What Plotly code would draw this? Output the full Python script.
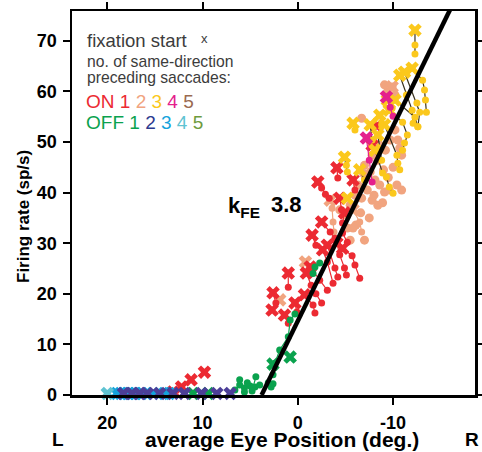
import plotly.graph_objects as go

# ---------------- data (eye position in deg, firing rate in sp/s) ----------------
# ON 1 (red)
on1_fix_x = [13.1, 12.2, 11.2, 9.8, 2.7, -7.8, -8.3, -2.1, 1.0, -0.9, -4.1, -4.7, -4.9, -2.5,
             -0.7, -2.6, -3.1, -1.3, 2.6, -4.4, -4.1, -5.8, 0.3, 1.4, -1.5]
on1_fix_y = [0.6, 1.6, 3.0, 4.5, 16.8, 49.4, 53.2, 42.1, 24.1, 24.1, 30.0, 29.0, 36.0, 34.2,
             19.8, 28.7, 29.6, 25.3, 20.2, 38.9, 44.9, 42.5, 18.2, 15.8, 31.6]
on1_traj_x = [-2.1, -2.5, -2.9, -3.3, None, 1.0, 1.0, None, -0.9, -1.4, -1.9, -2.5, None,
              -4.1, -4.4, -4.9, -5.1, None, -4.7, -5.7, -6.0, -6.5, None, -4.9, -4.7, -4.7, -5.2, None,
              -2.5, -3.4, -3.9, None, -0.7, -1.6, -1.8, None, -2.6, -3.1, -3.7, None,
              -3.1, -3.9, -4.2, None, -1.3, -2.3, -3.1, None, 2.6, 2.3, None, -4.4, -4.6, None,
              -4.1, -4.2, None, -5.8, -6.0, None, 0.3, 0.1, None, 1.4, 1.0, None, -1.5, -1.9]
on1_traj_y = [42.1, 40.9, 39.7, 38.9, None, 24.1, 21.3, None, 24.1, 21.7, 20.0, 18.2, None,
              30.0, 27.7, 25.1, 23.7, None, 29.0, 27.5, 25.7, 23.1, None, 36.0, 34.0, 32.0, 30.2, None,
              34.2, 32.2, 31.0, None, 19.8, 17.8, 16.2, None, 28.7, 26.3, 22.1, None,
              29.6, 25.1, 23.3, None, 25.3, 22.7, 20.7, None, 20.2, 18.2, None, 38.9, 36.6, None,
              44.9, 42.9, None, 42.5, 40.5, None, 18.2, 16.4, None, 15.8, 14.2, None, 31.6, 29.6]

# ON 2 (salmon)
on2_fix_x = [-3.4, -0.8, 1.9, -5.8, -9.9]
on2_fix_y = [38.5, 26.3, 18.8, 36.6, 60.9]
on2_traj_x = [-3.4, -3.6, -3.7, -3.8, None, -0.8, -1.0, None, -5.8, -6.5, -6.7]
on2_traj_y = [38.5, 36.9, 34.2, 32.2, None, 26.3, 24.3, None, 36.6, 34.2, 32.2]
on2_dot_x = [-6.7, -9.9, -9.4, -10.2, -9.1, -10.5, -10.7, -10.9, -7.0, -7.6, -8.1, -8.6, -7.3,
             -6.7, -7.8, -8.4, -9.1, -9.6, -10.4, -10.9, -9.0, -8.4, -7.8, -7.1, -6.3, -6.0,
             -5.5, -4.9, -6.1, -5.5, -5.2, -7.0, -4.4, -10.2, -9.7, -9.2, -8.6, -6.6, -7.5,
             -8.0, -6.9, -5.8, -9.5, -10.0, -8.9]
on2_dot_y = [54.7, 60.9, 59.9, 59.3, 61.3, 50.4, 48.8, 47.4, 45.4, 44.1, 42.5, 41.5, 40.5,
             38.9, 38.5, 37.5, 40.1, 40.5, 41.5, 40.5, 44.5, 46.4, 47.4, 42.9, 41.5, 39.5,
             37.5, 35.6, 33.6, 30.6, 33.0, 30.6, 36.6, 52.4, 50.4, 48.4, 49.4, 36.0, 35.0,
             39.5, 43.8, 33.0, 43.0, 45.0, 38.0]

# ON 3 (yellow)
on3_fix_x = [-12.3, -12.0, -10.7, -11.2, -9.6, -9.1, -8.1, -5.8, -4.9, -6.5, -8.4, -10.2,
             -8.6, -5.2, -7.6, -9.4]
on3_fix_y = [72.1, 64.6, 63.2, 63.8, 56.3, 53.4, 48.4, 53.7, 47.0, 44.5, 51.4, 58.3,
             55.3, 38.9, 53.4, 58.3]
on3_traj_x = [-12.3, -12.3, -12.3, None, -12.0, -13.1, -13.3, -13.4, -13.5, None,
              -10.7, -11.4, -12.0, -12.1, None, -11.2, -12.5, -12.8, -12.6, None,
              -9.6, -11.0, -11.5, -11.2, -11.0, None, -9.1, -10.4, -10.5, -10.7, None,
              -8.1, -8.9, -9.3, -9.6, -10.0, None, -5.8, -6.0, None, -4.9, -5.1, -5.2, None,
              -6.5, -7.0, None, -8.4, -8.6, -8.8, None, -10.2, -12.3, -12.6, None,
              -8.6, -8.8, None, -7.6, -7.8, None, -9.4, -9.9]
on3_traj_y = [72.1, 69.2, 67.4, None, 64.6, 62.2, 60.3, 58.3, 55.9, None,
              63.2, 59.3, 56.3, 53.7, None, 63.8, 57.7, 55.9, 53.0, None,
              56.3, 53.9, 51.4, 49.8, 48.4, None, 53.4, 47.4, 45.8, 44.5, None,
              48.4, 43.9, 43.1, 41.1, 39.9, None, 53.7, 52.4, None, 47.0, 45.4, 44.1, None,
              44.5, 42.5, None, 51.4, 48.4, 46.4, None, 58.3, 54.9, 53.0, None,
              55.3, 53.4, None, 53.4, 50.4, None, 58.3, 56.7]

# ON 4 (magenta)
on4_fix_x = [-9.3, -7.2]
on4_fix_y = [58.9, 50.8]
on4_traj_x = [-9.3, -9.7, -10.0, None, -7.2, -7.5, -7.8]
on4_traj_y = [58.9, 56.9, 55.1, None, 50.8, 46.4, 42.1]

# OFF 1 (green)
off1_fix_x = [2.6, 0.8, 11.0, 9.4]
off1_fix_y = [6.1, 7.5, 0.3, 0.3]
off1_traj_x = [6.6, 6.1, 5.6, 5.0, 4.5, 4.0, None, 6.1, 5.6, 5.3, 4.8, 4.4, None,
               3.1, 2.8, 2.6, None, 2.6, 2.4, 1.9, 1.0, 0.8, 0.3, None, -1.6, -1.8, -2.3]
off1_traj_y = [1.0, 2.0, 1.4, 1.8, 1.6, 2.0, None, 3.0, 0.6, 2.4, 0.8, 3.6, None,
               2.4, 1.6, 2.2, None, 4.0, 6.3, 8.9, 11.5, 14.8, 16.0, None, 24.0, 25.3, 26.1]

# OFF 2 (dark blue / purple)
off2_fix_x = [18.3, 17.4, 16.6, 15.8, 14.5, 13.1, 11.9, 10.1, 8.5, 7.1]
off2_fix_y = [0.3, 0.3, 0.3, 0.3, 0.3, 0.3, 0.3, 0.3, 0.3, 0.3]

# OFF 3 (cyan)
off3_fix_x = [19.0, 18.6, 18.2, 17.8, 17.4, 17.0, 16.4, 15.2, 14.0, 13.5]
off3_fix_y = [0.3, 0.3, 0.3, 0.3, 0.3, 0.3, 0.3, 0.3, 0.3, 0.3]

# OFF 4 (light cyan)
off4_fix_x = [20.0]
off4_fix_y = [0.3]

# linear fit: threshold and slope k_FE
fit_threshold = 3.8
fit_slope = 3.85
fit_x = [3.8, -16.0]

x_tick_vals = [20, 10, 0, -10]
y_tick_vals = [0, 10, 20, 30, 40, 50, 60, 70]

# ---------------- colours ----------------
C_ON1 = "#ec2a32"
C_ON2 = "#f1a47f"
C_ON3 = "#fbc81c"
C_ON4 = "#e4208c"
C_ON5 = "#9a6a50"
C_OFF1 = "#0aa24e"
C_OFF2 = "#2b3a8f"
C_OFF2_MK = "#4c3f98"
C_OFF3 = "#14a3dc"
C_OFF4 = "#5fc3d2"
C_OFF5 = "#6e9b3d"

fig = go.Figure()


def add_traj(xs, ys, color, line_color=None, size=7):
    fig.add_trace(go.Scatter(x=xs, y=ys, mode="lines+markers",
                             line=dict(color=line_color or color, width=1.2),
                             marker=dict(color=color, size=size, symbol="circle"),
                             connectgaps=False, cliponaxis=False, hoverinfo="skip"))


def add_dots(xs, ys, color, size=8):
    fig.add_trace(go.Scatter(x=xs, y=ys, mode="markers",
                             marker=dict(color=color, size=size, symbol="circle"),
                             cliponaxis=False, hoverinfo="skip"))


def add_fix(xs, ys, color, size=12):
    fig.add_trace(go.Scatter(x=xs, y=ys, mode="markers",
                             marker=dict(color=color, size=size, symbol="x",
                                         line=dict(width=0)),
                             cliponaxis=False, hoverinfo="skip"))


# salmon underneath
add_dots(on2_dot_x, on2_dot_y, C_ON2, size=9)
add_traj(on2_traj_x, on2_traj_y, C_ON2)
add_fix(on2_fix_x, on2_fix_y, C_ON2)
# red
add_traj(on1_traj_x, on1_traj_y, C_ON1)
add_fix(on1_fix_x, on1_fix_y, C_ON1)
# yellow
add_traj(on3_traj_x, on3_traj_y, C_ON3, line_color="#3a3320")
add_fix(on3_fix_x, on3_fix_y, C_ON3)
# magenta
add_traj(on4_traj_x, on4_traj_y, C_ON4)
add_fix(on4_fix_x, on4_fix_y, C_ON4)
# OFF groups
add_traj(off1_traj_x, off1_traj_y, C_OFF1)
add_fix(off1_fix_x, off1_fix_y, C_OFF1)
add_fix(off3_fix_x, off3_fix_y, C_OFF3)
add_fix(off2_fix_x, off2_fix_y, C_OFF2_MK)
add_fix(off4_fix_x, off4_fix_y, C_OFF4)

# fit line on top
fit_y = [fit_slope * (fit_threshold - v) for v in fit_x]
fig.add_trace(go.Scatter(x=fit_x, y=fit_y, mode="lines",
                         line=dict(color="black", width=4.5),
                         cliponaxis=True, hoverinfo="skip"))

FONT = "Arial, Liberation Sans, Helvetica, sans-serif"
L, R, T, B = 72, 7, 11, 57
W, H = 482, 452
pw, ph = W - L - R, H - T - B


def px(xp):
    return (xp - L) / pw


def py(yp):
    return (H - B - yp) / ph


ann = []
txt_col = "#3c3c3c"
ann.append(dict(x=px(85), y=py(40), text="fixation start", font=dict(size=18.5, color=txt_col)))
ann.append(dict(x=px(199), y=py(38), text="x", font=dict(size=13, color=txt_col)))
ann.append(dict(x=px(85), y=py(61), text="no. of same-direction", font=dict(size=15.7, color=txt_col)))
ann.append(dict(x=px(85), y=py(78), text="preceding saccades:", font=dict(size=15.7, color=txt_col)))


def colored_row(items):
    return "".join(f'<span style="color:{c}">{t}</span>' for t, c in items)


ann.append(dict(x=px(84), y=py(101), text=colored_row(
    [("ON ", C_ON1), ("1 ", C_ON1), ("2 ", C_ON2), ("3 ", C_ON3), ("4 ", C_ON4), ("5", C_ON5)]),
    font=dict(size=19)))
ann.append(dict(x=px(84), y=py(123), text=colored_row(
    [("OFF ", C_OFF1), ("1 ", C_OFF1), ("2 ", C_OFF2), ("3 ", C_OFF3), ("4 ", C_OFF4), ("5", C_OFF5)]),
    font=dict(size=19)))
for a in ann:
    a.update(xref="paper", yref="paper", xanchor="left", yanchor="middle", showarrow=False)
    a["font"]["family"] = FONT

# axis titles and labels
extra = [
    dict(x=px(24), y=py(217), text="<b>Firing rate (sp/s)</b>", textangle=-90,
         font=dict(size=17, color="black", family=FONT), xanchor="center", yanchor="middle"),
    dict(x=px(282), y=py(439), text="<b>average Eye Position (deg.)</b>",
         font=dict(size=21, color="black", family=FONT), xanchor="center", yanchor="middle"),
    dict(x=px(58), y=py(439), text="<b>L</b>",
         font=dict(size=19, color="black", family=FONT), xanchor="center", yanchor="middle"),
    dict(x=px(481), y=py(439), text="<b>R</b>",
         font=dict(size=19, color="black", family=FONT), xanchor="right", yanchor="middle"),
    dict(x=px(226), y=py(207), text="<b>k<sub>FE</sub></b>",
         font=dict(size=22, color="black", family=FONT), xanchor="left", yanchor="middle"),
    dict(x=px(269), y=py(204), text="<b>3.8</b>",
         font=dict(size=22, color="black", family=FONT), xanchor="left", yanchor="middle"),
]
for a in extra:
    a.update(xref="paper", yref="paper", showarrow=False)
ann.extend(extra)

fig.update_layout(
    width=W, height=H,
    margin=dict(l=L, r=R, t=T, b=B, pad=0, autoexpand=False),
    paper_bgcolor="white", plot_bgcolor="white",
    showlegend=False,
    annotations=ann,
    font=dict(family=FONT, color="black"),
)
fig.update_xaxes(range=[23.7, -18.6], tickvals=x_tick_vals,
                 ticktext=[str(v) for v in x_tick_vals], automargin=False,
                 showgrid=False, zeroline=False, showline=True, linecolor="black", linewidth=2.5,
                 mirror="ticks", ticks="outside", ticklen=7, tickwidth=2, tickcolor="black",
                 ticklabelstandoff=3,
                 tickfont=dict(size=18, family=FONT, color="black", weight="bold"))
fig.update_yaxes(range=[0, 75.9], tickvals=y_tick_vals, automargin=False,
                 showgrid=False, zeroline=False, showline=True, linecolor="black", linewidth=2.5,
                 mirror="ticks", ticks="outside", ticklen=7, tickwidth=2, tickcolor="black",
                 ticklabelstandoff=2,
                 tickfont=dict(size=18, family=FONT, color="black", weight="bold"))

fig.write_html("out.html", config={"displayModeBar": False, "staticPlot": True})

# remove the browser's default page margin so the figure sits at the window's corner
with open("out.html", "r", encoding="utf-8") as f:
    html = f.read()
html = html.replace("<head>", "<head><style>html,body{margin:0;padding:0;overflow:hidden;}</style>", 1)
with open("out.html", "w", encoding="utf-8") as f:
    f.write(html)
